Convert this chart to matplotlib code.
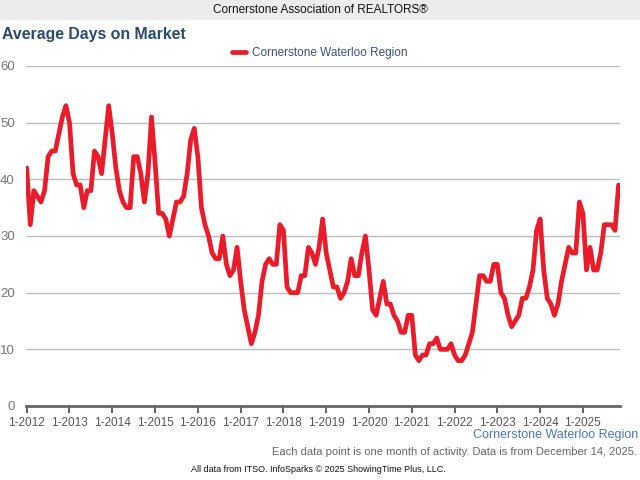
import matplotlib
matplotlib.use("Agg")
import matplotlib.pyplot as plt
from matplotlib.patches import Rectangle

plt.rcParams["font.family"] = ["Liberation Sans", "DejaVu Sans"]

# monthly average days on market, Jan 2012 .. Nov 2025
days_2012 = [42, 32, 38, 37, 36, 38, 44, 45, 45, 48, 51, 53]
days_2013 = [50, 41, 39, 39, 35, 38, 38, 45, 44, 41, 47, 53]
days_2014 = [48, 42, 38, 36, 35, 35, 44, 44, 41, 36, 41, 51]
days_2015 = [43, 34, 34, 33, 30, 33, 36, 36, 37, 41, 47, 49]
days_2016 = [44, 35, 32, 30, 27, 26, 26, 30, 25, 23, 24, 28]
days_2017 = [22, 17, 14, 11, 13, 16, 22, 25, 26, 25, 25, 32]
days_2018 = [31, 21, 20, 20, 20, 23, 23, 28, 27, 25, 28, 33]
days_2019 = [27, 24, 21, 21, 19, 20, 22, 26, 23, 23, 27, 30]
days_2020 = [24, 17, 16, 19, 22, 18, 18, 16, 15, 13, 13, 16]
days_2021 = [16, 9, 8, 9, 9, 11, 11, 12, 10, 10, 10, 11]
days_2022 = [9, 8, 8, 9, 11, 13, 18, 23, 23, 22, 22, 25]
days_2023 = [25, 20, 19, 16, 14, 15, 16, 19, 19, 21, 24, 31]
days_2024 = [33, 24, 19, 18, 16, 18, 22, 25, 28, 27, 27, 36]
days_2025 = [34, 24, 28, 24, 24, 27, 32, 32, 32, 31, 39]

years = list(range(2012, 2026))
tick_labels = [f"1-{y}" for y in years]
y_ticks = [0, 10, 20, 30, 40, 50, 60]

days = (days_2012 + days_2013 + days_2014 + days_2015 + days_2016 + days_2017
        + days_2018 + days_2019 + days_2020 + days_2021 + days_2022 + days_2023
        + days_2024 + days_2025)
months = list(range(len(days)))

W, H = 640, 480
fig = plt.figure(figsize=(6.4, 4.8), dpi=100)

# grey header band
fig.patches.append(Rectangle((0, 1 - 20 / H), 1, 20 / H, transform=fig.transFigure,
                             facecolor="#ececec", edgecolor="none", zorder=0))
fig.text(0.5, 1 - 10 / H, "Cornerstone Association of REALTORS®", ha="center", va="center",
         fontsize=8.5, color="#111111")
fig.text(2 / W, 1 - 35 / H, "Average Days on Market", ha="left", va="center",
         fontsize=11.4, fontweight="bold", color="#2b4a6f")

ax = fig.add_axes([26 / W, (H - 406) / H, (620 - 26) / W, (406 - 66) / H])
line, = ax.plot(months, days, color="#ea1c2a", lw=3.4, solid_joinstyle="round",
                solid_capstyle="round", label="Cornerstone Waterloo Region")

ax.set_xlim(-0.2, 166.4)
ax.set_ylim(0, 60)
ax.set_yticks(y_ticks)
ax.set_xticks([12 * i for i in range(len(years))], tick_labels)
ax.grid(axis="y", color="#bdbdbd", lw=1)
ax.set_axisbelow(True)
for side in ["top", "right", "left"]:
    ax.spines[side].set_visible(False)
ax.spines["bottom"].set_color("#666666")
ax.spines["bottom"].set_linewidth(2)
ax.tick_params(axis="x", direction="out", length=5, width=1.5, color="#666666",
               labelsize=8.5, labelcolor="#555555", pad=3)
ax.tick_params(axis="y", length=0, labelsize=9.5, labelcolor="#777777", pad=8)

fig.legend(handles=[line], loc="center", bbox_to_anchor=(0.5, 1 - 53 / H), frameon=False,
           fontsize=8.5, handlelength=1.2, handletextpad=0.5, labelcolor="#3b5370")

fig.text(638 / W, 1 - 435 / H, "Cornerstone Waterloo Region", ha="right", va="center",
         fontsize=9, color="#4c79b4")
fig.text(637 / W, 1 - 452 / H,
         "Each data point is one month of activity. Data is from December 14, 2025.",
         ha="right", va="center", fontsize=8, color="#666666")
fig.text(318 / W, 1 - 470 / H, "All data from ITSO. InfoSparks © 2025 ShowingTime Plus, LLC.",
         ha="center", va="center", fontsize=6.5, color="#111111")

fig.savefig("out.png", dpi=100)
